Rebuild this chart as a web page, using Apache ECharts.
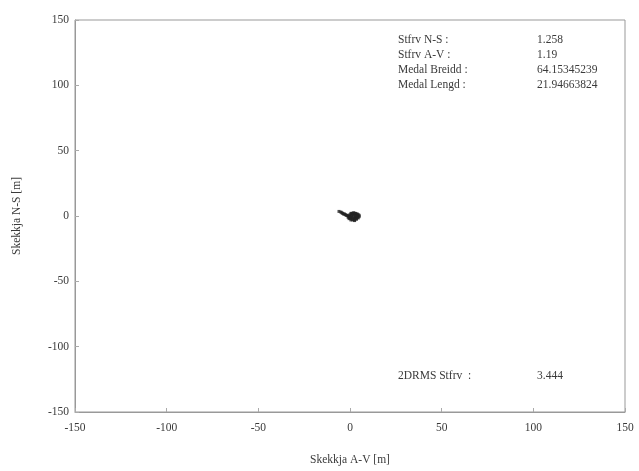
<!DOCTYPE html>
<html><head><meta charset="utf-8">
<script src="https://cdn.jsdelivr.net/npm/echarts@6/dist/echarts.min.js"></script>
<style>html,body{margin:0;padding:0;background:#fff}#c{width:639px;height:471px}</style>
</head><body><div id="c"></div>
<script>
var xTicks = [-150, -100, -50, 0, 50, 100, 150];
var yTicks = [-150, -100, -50, 0, 50, 100, 150];
var errAV = [-6, -5, -4.5, -4, -3.5, -3, -2.5, -2, -1.5, -1, -0.5, 0, 0.5, 1, 1.5, 2, 2.5, 3, 3.5, 4, 4.5,
  -1, 0, 1, 2, 3, 4, 5, -0.5, 0.5, 1.5, 2.5, 3.5, 4.5, 0, 1, 2, 3, 4, 0.5, 1.5, 2.5, 3.5, 1, 2, 3, 4, 5, 0, 2.5];
var errNS = [3.5, 3, 2.5, 2, 1.5, 1.5, 1, 0.5, 0.5, 0, 0, -0.5, 2, 2, 2, 2.5, 2, 2, 1.5, 1.5, 1,
  -1, -1.5, -1, -1.5, -1, -1, -0.5, -2, -2, -2.5, -2, -2, -1.5, 1, 1, 1, 0.5, 0.5, -3, -3, -3, -2.5, 0, 0, 0, 0, 0.5, -1, -3.5];
var statLabels = ["Stfrv N-S :", "Stfrv A-V :", "Medal Breidd :", "Medal Lengd :"];
var statValues = ["1.258", "1.19", "64.15345239", "21.94663824"];
var drmsLabel = "2DRMS Stfrv  :";
var drmsValue = "3.444";
var xTitle = "Skekkja A-V [m]";
var yTitle = "Skekkja N-S [m]";

var pts = errAV.map(function (v, i) { return [v, errNS[i]]; });
var font = "Liberation Serif";
var txtCol = "#3a3a3a";
var tf = '11.5px "Liberation Serif"';
var graphics = [];
statLabels.forEach(function (s, i) {
  graphics.push({type: 'text', left: 398, top: 34 + i * 15, style: {text: s, font: tf, fill: txtCol}});
  graphics.push({type: 'text', left: 537, top: 34 + i * 15, style: {text: statValues[i], font: tf, fill: txtCol}});
});
graphics.push({type: 'text', left: 398, top: 370, style: {text: drmsLabel, font: tf, fill: txtCol}});
graphics.push({type: 'text', left: 537, top: 370, style: {text: drmsValue, font: tf, fill: txtCol}});

var chart = echarts.init(document.getElementById('c'), null, {renderer: 'canvas'});
var axisCommon = {
  min: -150, max: 150, interval: 50,
  axisLine: {onZero: false, lineStyle: {color: '#999', width: 1}},
  axisTick: {inside: true, length: 4, lineStyle: {color: '#aaa'}},
  splitLine: {show: false},
  axisLabel: {fontFamily: font, fontSize: 11.5, color: txtCol},
  nameTextStyle: {fontFamily: font, fontSize: 11.5, color: txtCol}
};
chart.setOption({
  animation: false,
  backgroundColor: '#fff',
  grid: {left: 75, right: 14, top: 20, bottom: 53, containLabel: false, show: true, borderColor: '#999', borderWidth: 1},
  xAxis: Object.assign({}, axisCommon, {
    type: 'value', name: xTitle, nameLocation: 'middle', nameGap: 42,
    axisLabel: Object.assign({}, axisCommon.axisLabel, {margin: 10})
  }),
  yAxis: Object.assign({}, axisCommon, {
    type: 'value', name: yTitle, nameLocation: 'middle', nameGap: 52,
    axisLabel: Object.assign({}, axisCommon.axisLabel, {margin: 6})
  }),
  series: [{
    type: 'scatter', data: pts, symbol: 'rect', symbolSize: 3,
    itemStyle: {color: '#222'}
  }],
  graphic: graphics
});
</script></body></html>
